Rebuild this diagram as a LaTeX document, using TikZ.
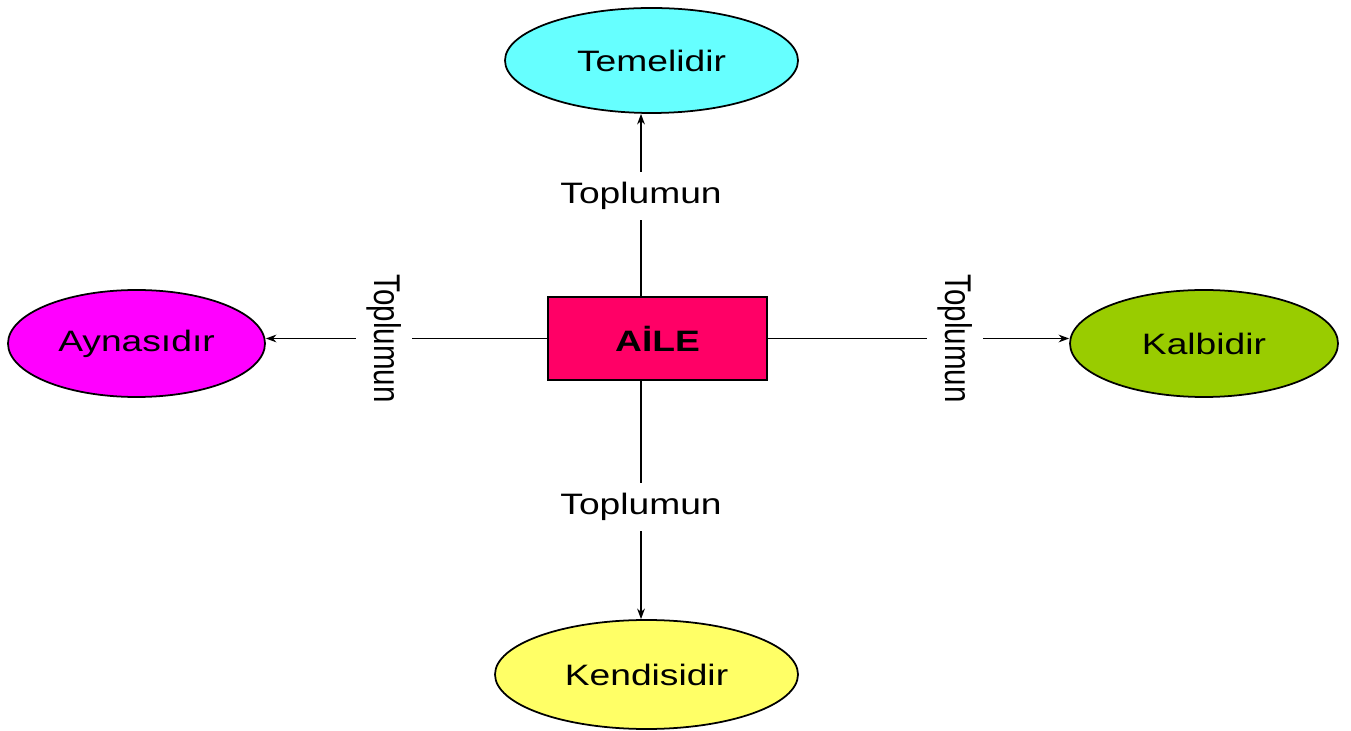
\documentclass[tikz,border=0pt]{standalone}
\usepackage{fontspec}
\setmainfont{Liberation Sans}
\usepackage{xcolor}
\usepackage{graphicx}
\usepackage{tikz}
\usetikzlibrary{positioning,arrows.meta,shapes.geometric}

\definecolor{temelcol}{HTML}{66FFFF}
\definecolor{aynacol}{HTML}{FF00FF}
\definecolor{kalpcol}{HTML}{99CC00}
\definecolor{kendicol}{HTML}{FFFF66}
\definecolor{ailecol}{HTML}{FF0066}

% text is stretched sideways in the picture
\newcommand{\widetxt}[1]{\scalebox{1.26}[1]{#1}}
\newcommand{\talltxt}[1]{\scalebox{1}[1.26]{#1}}

\begin{document}
\begin{tikzpicture}[
    oval/.style={ellipse, draw, line width=0.5pt, inner sep=0pt, font=\fontsize{8.4}{10}\selectfont},
    link/.style={-{Stealth[length=3pt,width=2.2pt]}, line width=0.4pt},
    lbl/.style={fill=white, inner sep=3pt, font=\fontsize{8.4}{10}\selectfont}
]
    \useasboundingbox (0,0) rectangle (13.51,-7.31);

    \node[rectangle, draw, line width=0.5pt, fill=ailecol, minimum width=2.19cm, minimum height=0.83cm,
          font=\fontsize{8.4}{10}\selectfont\bfseries] (aile) at (6.575,-3.385) {\widetxt{AİLE}};

    \node[oval, fill=temelcol, minimum width=2.93cm, minimum height=1.05cm] (temel) at (6.515,-0.605) {\widetxt{Temelidir}};
    \node[oval, fill=aynacol,  minimum width=2.57cm, minimum height=1.07cm] (ayna)  at (1.365,-3.435) {\widetxt{Aynasıdır}};
    \node[oval, fill=kalpcol,  minimum width=2.68cm, minimum height=1.07cm] (kalp)  at (12.04,-3.435) {\widetxt{Kalbidir}};
    \node[oval, fill=kendicol, minimum width=3.03cm, minimum height=1.09cm] (kendi) at (6.465,-6.745) {\widetxt{Kendisidir}};

    \coordinate (vx) at (6.41,0);

    \draw[link] (aile.north -| vx) -- node[lbl, pos=0.55] {\widetxt{Toplumun}} (temel.south -| vx);
    \draw[link] (aile.south -| vx) -- node[lbl, pos=0.53] {\widetxt{Toplumun}} (kendi.north -| vx);
    \draw[link] (aile.west) -- node[lbl, pos=0.58, rotate=-90] {\talltxt{Toplumun}} (ayna.east |- aile.west);
    \draw[link] (aile.east) -- node[lbl, pos=0.62, rotate=-90] {\talltxt{Toplumun}} (kalp.west |- aile.east);
\end{tikzpicture}
\end{document}
